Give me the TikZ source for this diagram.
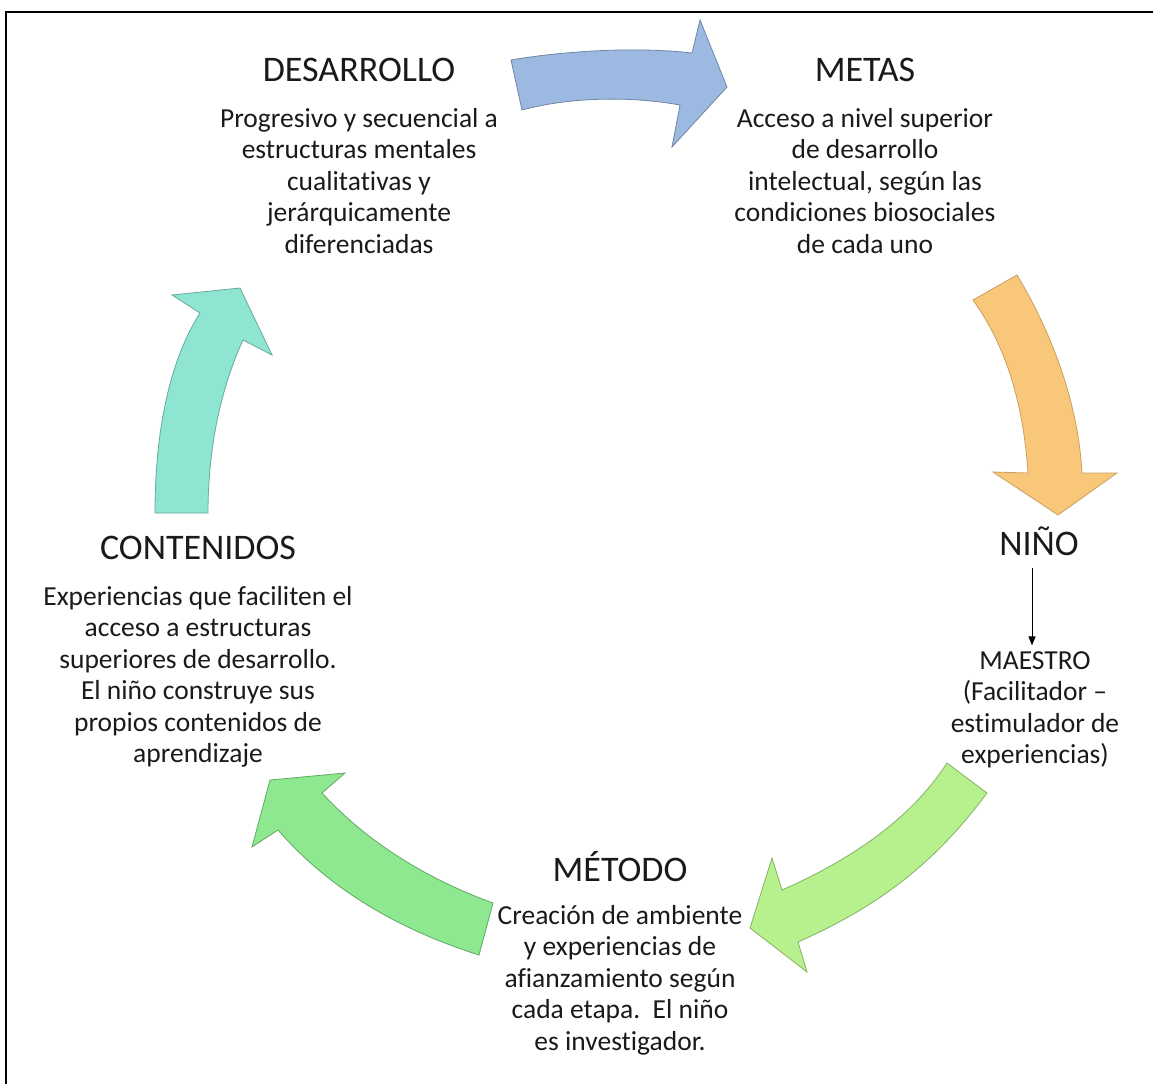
\documentclass[tikz,border=0pt]{standalone}
\usepackage{fontspec}
\setmainfont{Carlito}[Ligatures={NoCommon}]
\usetikzlibrary{arrows.meta}
\definecolor{blueA}{HTML}{9BB9E1}
\definecolor{blueO}{HTML}{6F86A6}
\definecolor{orangeA}{HTML}{F9C77A}
\definecolor{orangeO}{HTML}{C9A060}
\definecolor{greenR}{HTML}{B6F18D}
\definecolor{greenRO}{HTML}{86B068}
\definecolor{greenL}{HTML}{8EE88F}
\definecolor{greenLO}{HTML}{64A866}
\definecolor{tealA}{HTML}{8EE6D2}
\definecolor{tealO}{HTML}{66AA9C}
\definecolor{txt}{HTML}{1A1A1A}
\tikzset{
  titletext/.style={inner sep=0pt, text=txt, font=\fontsize{36}{42}\selectfont},
  bodytext/.style={inner sep=0pt, text=txt, align=center, font=\fontsize{27.5}{31.5}\selectfont},
  blockarrow/.style={line width=0.8pt, line join=miter},
}
\begin{document}
\begin{tikzpicture}[x=1pt,y=-1pt]
\useasboundingbox (0,0) rectangle (1153,1084);
% frame (only left and top edges visible)
\draw[line width=2.8pt] (6,1084) -- (6,12) -- (1153,12);

% blue arrow
\draw[blockarrow, fill=blueA, draw=blueO]
  (511,60) .. controls (570,50) and (640,47) .. (692,53)
  -- (700,20) -- (727,87) -- (672,147) -- (680,105)
  .. controls (630,96) and (570,97) .. (522,110) -- cycle;
% orange arrow
\draw[blockarrow, fill=orangeA, draw=orangeO]
  (973,300) -- (1017,275)
  .. controls (1050,330) and (1078,400) .. (1082,473)
  -- (1117,473) -- (1058,515) -- (993,472) -- (1028,473)
  .. controls (1023,400) and (1005,345) .. (973,300) -- cycle;
% lower right green arrow
\draw[blockarrow, fill=greenR, draw=greenRO]
  (947,763) -- (987,793)
  .. controls (930,870) and (870,910) .. (798,942)
  -- (807,972) -- (750,928) -- (772,858) -- (782,890)
  .. controls (850,860) and (910,820) .. (947,763) -- cycle;
% lower left green arrow
\draw[blockarrow, fill=greenL, draw=greenLO]
  (493,903) -- (479,955)
  .. controls (400,930) and (330,890) .. (278,830)
  -- (252,847) -- (270,780) -- (345,773) -- (322,793)
  .. controls (370,845) and (430,880) .. (493,903) -- cycle;
% teal arrow
\draw[blockarrow, fill=tealA, draw=tealO]
  (155,513) .. controls (155,430) and (170,360) .. (200,313)
  -- (172,295) -- (240,288) -- (272,355) -- (243,340)
  .. controls (220,390) and (208,450) .. (208,513) -- cycle;

% texts
\node[titletext] (desT) at (359,70) {DESARROLLO};
\node[bodytext] (desB) at (359,181) {Progresivo y secuencial a\\estructuras mentales\\cualitativas y\\jerárquicamente\\diferenciadas};

\node[titletext] (metT) at (865,70) {METAS};
\node[bodytext] (metB) at (865,181) {Acceso a nivel superior\\de desarrollo\\intelectual, según las\\condiciones biosociales\\de cada uno};

\node[titletext] (nino) at (1039,541) {NIÑO};
\node[bodytext] (maestro) at (1035,710) {MAESTRO\\(Facilitador –\\estimulador de\\experiencias)};

\node[titletext] (conT) at (198,548) {CONTENIDOS};
\node[bodytext] (conB) at (198,677) {Experiencias que faciliten el\\acceso a estructuras\\superiores de desarrollo.\\El niño construye sus\\propios contenidos de\\aprendizaje};

\node[titletext] (metoT) at (620,867) {MÉTODO};
\node[bodytext] (metoB) at (620,980) {Creación de ambiente\\y experiencias de\\afianzamiento según\\cada etapa.\ \ El niño\\es investigador.};

\draw[line width=1pt, -{Triangle[width=7pt,length=9pt]}]
  ([xshift=-7pt,yshift=-12pt]nino.south) -- ([xshift=-3pt,yshift=6pt]maestro.north);
\end{tikzpicture}
\end{document}
